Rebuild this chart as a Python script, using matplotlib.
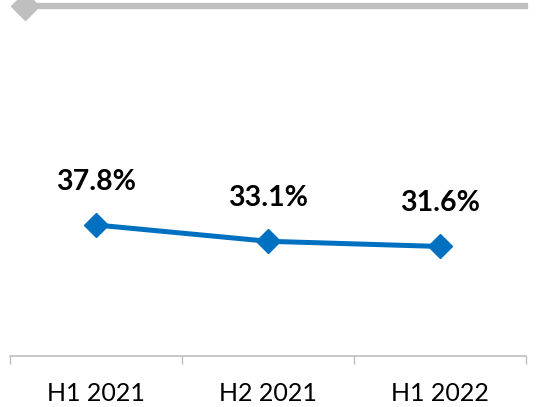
import matplotlib
matplotlib.use("Agg")
import matplotlib.pyplot as plt

# Chart data

periods = ["H1 2021", "H2 2021", "H1 2022"]
share = [37.8, 33.1, 31.6]
share_labels = ["37.8%", "33.1%", "31.6%"]

BLUE = "#0070C0"
GREY = "#BFBFBF"

plt.rcParams["font.family"] = ["Lato", "DejaVu Sans"]

fig = plt.figure(figsize=(5.39, 4.07), dpi=100)
W, H = 539, 407
# axes: x from 10 to 526 px, y from 9.4 to 356 px (top-down)
ax = fig.add_axes([10 / W, (H - 356) / H, 516 / W, 346.6 / H])

x = list(range(len(periods)))
ax.plot(x, share, color=BLUE, linewidth=3.6, marker="D", markersize=12,
        markerfacecolor=BLUE, markeredgecolor=BLUE, solid_capstyle="round")

for xi, v, lab in zip(x, share, share_labels):
    ax.annotate(lab, (xi, v), xytext=(0, 31), textcoords="offset points",
                ha="center", va="center", fontsize=20.5, fontweight="bold",
                color="black")

# grey stub line at the top (partly cut off)
ax.plot([0.029, 0.998], [1.0098, 1.0098], transform=ax.transAxes,
        color=GREY, linewidth=4.5, clip_on=False)
ax.plot([0.029], [1.0098], transform=ax.transAxes, color=GREY,
        marker="D", markersize=14, clip_on=False)

ax.set_xlim(-0.5, 2.5)
ax.set_ylim(0, 100)

ax.set_xticks(x)
ax.set_xticklabels(periods, fontsize=18)
ax.set_xticks([-0.5, 0.5, 1.5, 2.5], minor=True)
ax.tick_params(axis="x", which="major", length=0, pad=18.5)
ax.tick_params(axis="x", which="minor", length=6, width=1, color=GREY)
ax.set_yticks([])

for side in ["left", "right", "top"]:
    ax.spines[side].set_visible(False)
ax.spines["bottom"].set_color(GREY)
ax.spines["bottom"].set_linewidth(1.2)

fig.savefig("out.png", dpi=100)
